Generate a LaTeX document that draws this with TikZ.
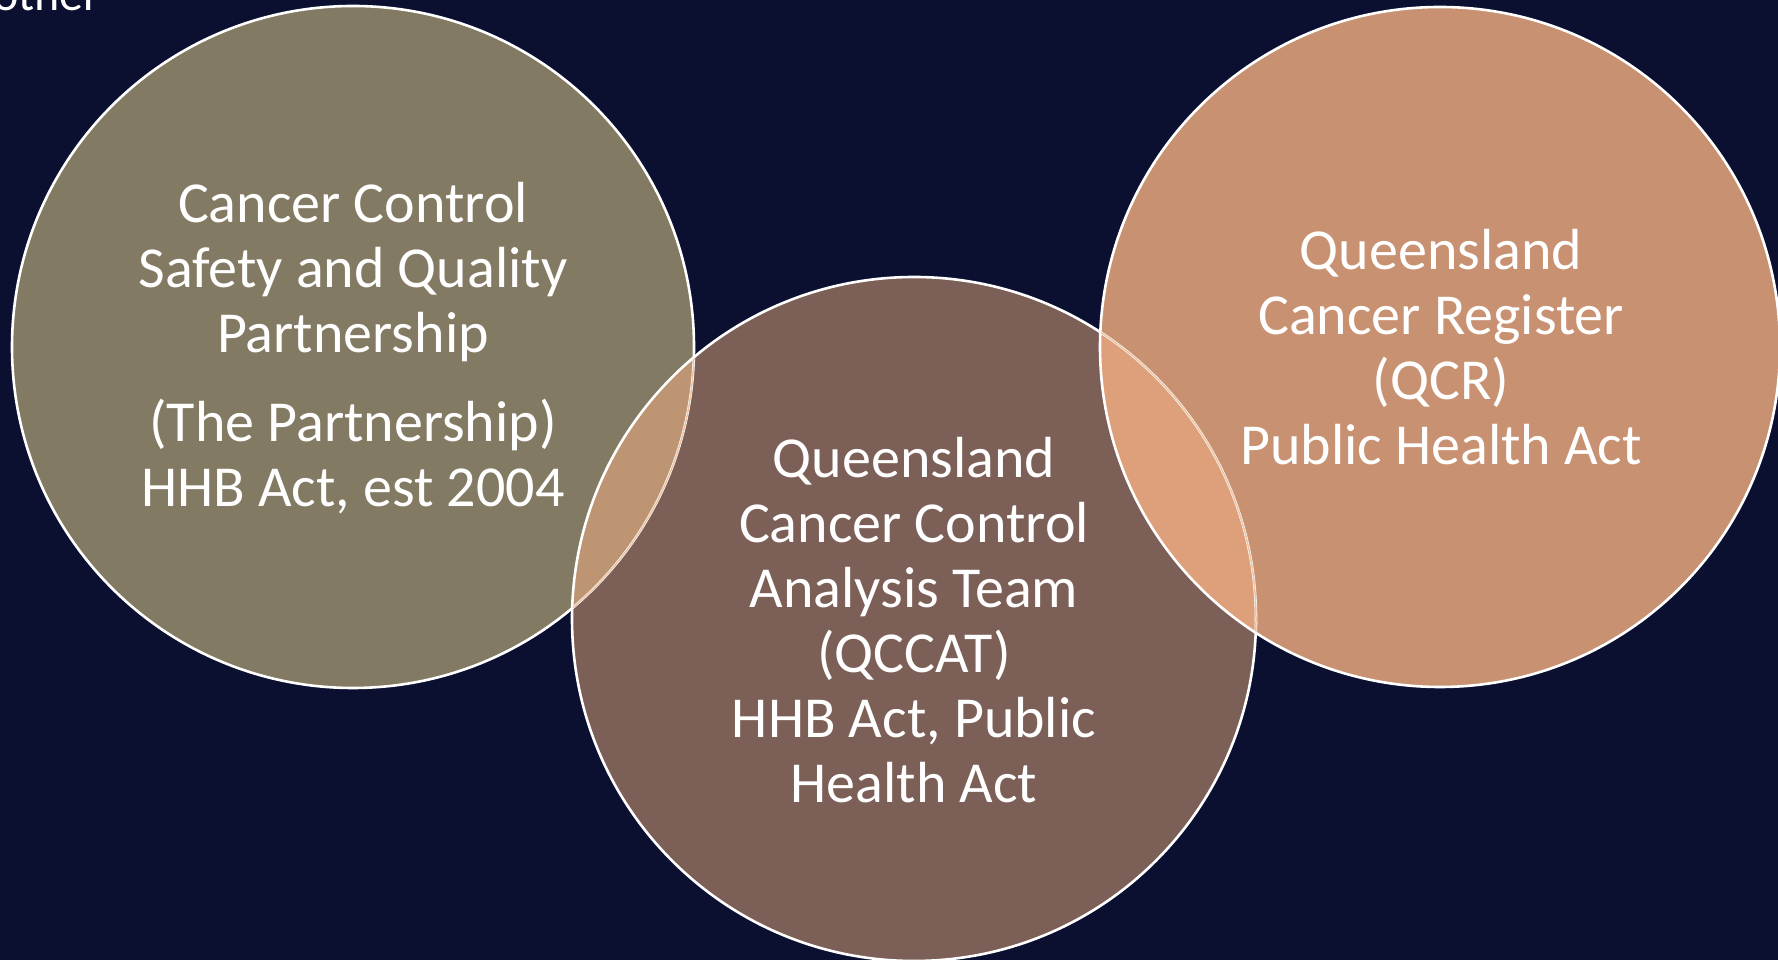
\documentclass[tikz,border=0pt]{standalone}
\usepackage{fontspec}
\setmainfont{Carlito}
\definecolor{fondo}{HTML}{0B0F30}
\definecolor{colA}{HTML}{837A63}
\definecolor{colB}{HTML}{7C5F57}
\definecolor{colC}{HTML}{C89272}
\definecolor{lenteAB}{HTML}{BD9573}
\definecolor{lenteBC}{HTML}{DDA07A}
\definecolor{borde}{HTML}{EBC5A5}
\tikzset{
  circulo/.style={draw=white, line width=2.6pt},
  texto/.style={text=white, align=center, font=\fontsize{58}{65}\selectfont}
}

\begin{document}
\begin{tikzpicture}[x=1pt,y=1pt]
		\useasboundingbox (0,0) rectangle (1778,960);
		\clip (0,0) rectangle (1778,960);
		\fill[fondo] (0,0) rectangle (1778,960); %fondo
		\node[anchor=base east, text=white, font=\fontsize{48}{56}\selectfont] (otro) at (104,949) {other}; %texto cortado
		\coordinate (A) at (353,613); %centro izquierdo
		\coordinate (B) at (914,341); %centro medio
		\coordinate (C) at (1440,613); %centro derecho
		\fill[colA] (A) circle[radius=341];
		\fill[colB] (B) circle[radius=342];
		\fill[colC] (C) circle[radius=340];
		\begin{scope} %lente A-B
			\clip (A) circle[radius=341];
			\fill[lenteAB] (B) circle[radius=342];
		\end{scope}
		\begin{scope} %lente B-C
			\clip (B) circle[radius=342];
			\fill[lenteBC] (C) circle[radius=340];
		\end{scope}
		\draw[circulo] (A) circle[radius=341];
		\draw[circulo] (B) circle[radius=342];
		\draw[circulo] (C) circle[radius=340];
		\begin{scope} %bordes tenues dentro de las lentes
			\clip (B) circle[radius=341];
			\draw[borde, line width=1.5pt] (A) circle[radius=341];
		\end{scope}
		\begin{scope}
			\clip (C) circle[radius=339];
			\draw[borde, line width=1.5pt] (B) circle[radius=342];
		\end{scope}
		\node[texto] (partnership) at (353,612) {Cancer Control\\Safety and Quality\\Partnership\\[24pt](The Partnership)\\HHB Act, est 2004};
		\node[texto] (qccat) at (914,340) {Queensland\\Cancer Control\\Analysis Team\\(QCCAT)\\HHB Act, Public\\Health Act};
		\node[texto] (qcr) at (1441,613) {Queensland\\Cancer Register\\(QCR)\\Public Health Act};
\end{tikzpicture}
\end{document}
